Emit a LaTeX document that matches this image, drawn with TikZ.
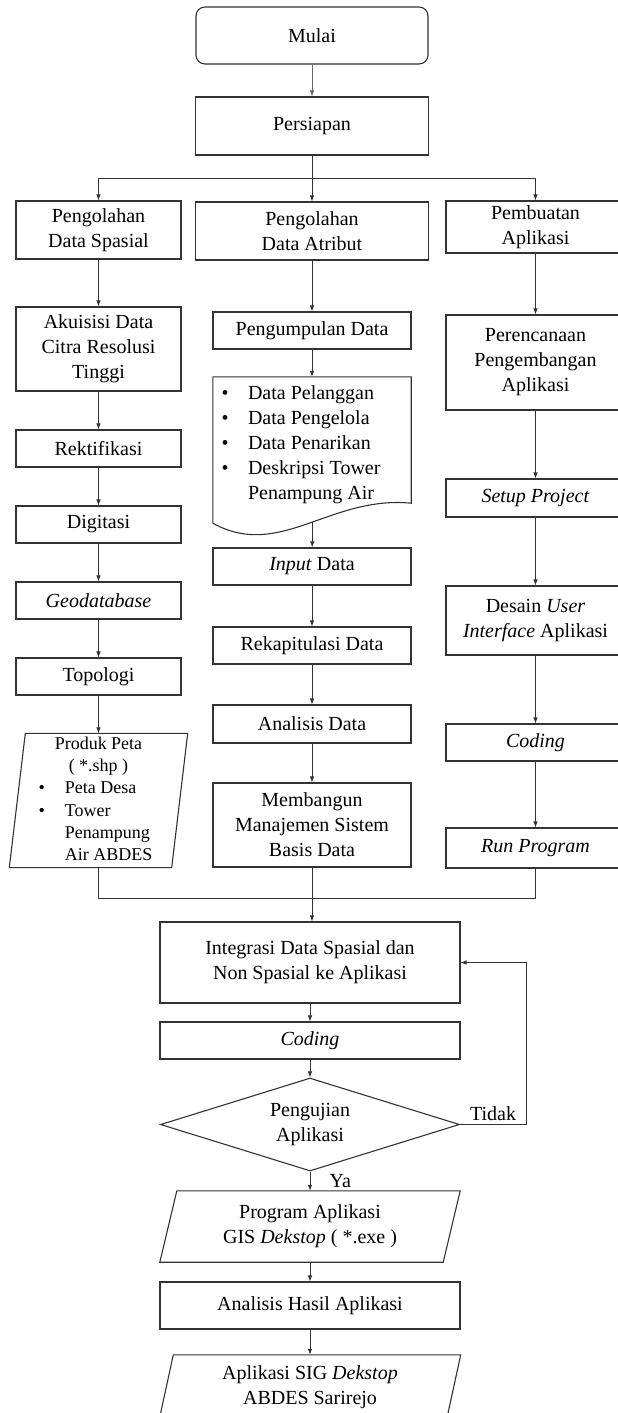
\documentclass[tikz,border=0pt]{standalone}
\usepackage{fontspec}
\setmainfont{Liberation Serif}
\usepackage{tikz}
\usetikzlibrary{calc,shapes.geometric,arrows.meta}
\newcommand{\isi}{\fontsize{20pt}{25pt}\selectfont}
\newcommand{\isikecil}{\fontsize{18pt}{22.3pt}\selectfont}

\begin{document}
\begin{tikzpicture}[x=1pt,y=-1pt,
    kotak/.style={draw=black!80,line width=1.1pt,align=center,font=\isi,inner sep=2pt},
    kiri/.style={kotak,minimum width=165pt},
    tengah/.style={kotak,minimum width=198pt},
    kanan/.style={kotak,minimum width=179pt},
    bawah/.style={kotak,minimum width=300pt},
    miring/.style={draw=black!80,line width=1.1pt},
    panah/.style={-{Latex[length=6pt,width=4.5pt]},line width=0.8pt,draw=black!80},
    garis/.style={line width=0.8pt,draw=black!80}]
    \useasboundingbox (0,0) rectangle (618,1413);

    \node[kotak,rounded corners=9pt,minimum width=232pt,minimum height=57pt] (mulai) at (312,35.5) {Mulai};
    \node[kotak,minimum width=233pt,minimum height=58pt] (persiapan) at (312,126) {Persiapan};
    \coordinate (cabang) at (312,178);

    % kolom kiri
    \node[kiri,minimum height=58pt] (spasial) at (98.5,230) {Pengolahan\\Data Spasial};
    \node[kiri,minimum height=84pt] (akuisisi) at (98.5,349) {Akuisisi Data\\Citra Resolusi\\Tinggi};
    \node[kiri,minimum height=37pt] (rektifikasi) at (98.5,448.5) {Rektifikasi};
    \node[kiri,minimum height=37pt] (digitasi) at (98.5,524.5) {Digitasi};
    \node[kiri,minimum height=37pt] (geodb) at (98.5,600.5) {\textit{Geodatabase}};
    \node[kiri,minimum height=37pt] (topologi) at (98.5,676.5) {Topologi};
    \node[font=\isikecil,minimum width=162pt,minimum height=133pt,inner sep=0pt] (produk) at (98.5,800.5)
        {\begin{tabular}{@{}l@{\hspace{20pt}}l@{\hspace{6pt}}}
        \multicolumn{2}{c}{Produk Peta}\\ \multicolumn{2}{c}{( *.shp )}\\
        \textbullet & Peta Desa\\ \textbullet & Tower\\ & Penampung\\ & Air ABDES
        \end{tabular}};
    \draw[miring] ([xshift=8pt]produk.north west) -- ([xshift=8pt]produk.north east)
        -- ([xshift=-8pt]produk.south east) -- ([xshift=-8pt]produk.south west) -- cycle;

    % kolom tengah
    \node[kotak,minimum width=233pt,minimum height=58pt] (atribut) at (312,231) {Pengolahan\\Data Atribut};
    \node[tengah,minimum height=37pt] (kumpul) at (312,330.5) {Pengumpulan Data};
    \node[minimum width=198pt,minimum height=156pt] (dok) at (312,455) {};
    \node[font=\isi,inner sep=0pt] (dokisi) at (301,444)
        {\begin{tabular}{@{}l@{\hspace{19.5pt}}l@{}}
        \textbullet & Data Pelanggan\\ \textbullet & Data Pengelola\\
        \textbullet & Data Penarikan\\ \textbullet & Deskripsi Tower\\ & Penampung Air
        \end{tabular}};
    \draw[miring] ([yshift=10pt]dok.south west) |- (dok.north east) -- ([yshift=30pt]dok.south east)
        .. controls ($(dok.south west)+(117,-38)$) and ($(dok.south west)+(67,27)$) ..
        coordinate[pos=0.47] (ombak) ([yshift=10pt]dok.south west);
    \node[tengah,minimum height=37pt] (input) at (312,566.5) {\textit{Input} Data};
    \node[tengah,minimum height=37pt] (rekap) at (312,645.5) {Rekapitulasi Data};
    \node[tengah,minimum height=38pt] (analisis) at (312,724) {Analisis Data};
    \node[tengah,minimum height=84pt] (bangun) at (312,825) {Membangun\\Manajemen Sistem\\Basis Data};

    % kolom kanan
    \node[kanan,minimum height=52pt] (buat) at (535.5,227) {Pembuatan\\Aplikasi};
    \node[kanan,minimum height=95pt] (rencana) at (535.5,362.5) {Perencanaan\\Pengembangan\\Aplikasi};
    \node[kanan,minimum height=38pt] (setup) at (535.5,498) {\textit{Setup Project}};
    \node[kanan,minimum height=69pt] (desain) at (535.5,620.5) {Desain \textit{User}\\\textit{Interface} Aplikasi};
    \node[kanan,minimum height=37pt] (codingA) at (535.5,742.5) {\textit{Coding}};
    \node[kanan,minimum height=40pt] (run) at (535.5,848) {\textit{Run Program}};
    \coordinate (gabung) at (312,898);

    % bagian bawah
    \node[bawah,minimum height=81pt] (integrasi) at (310,962.5) {Integrasi Data Spasial dan\\Non Spasial ke Aplikasi};
    \node[bawah,minimum height=37pt] (coding) at (310,1040.5) {\textit{Coding}};
    \node[diamond,miring,font=\isi,align=center,aspect=3.2,minimum width=299pt,minimum height=93pt,inner sep=1pt]
        (uji) at (310,1124.5) {Pengujian\\Aplikasi};
    \coordinate (balik) at (526,1124.5);
    \node[font=\isi,align=center,minimum width=283pt,minimum height=71pt] (program) at (310,1226.5)
        {Program Aplikasi\\GIS \textit{Dekstop} ( *.exe )};
    \draw[miring] ([xshift=8.5pt]program.north west) -- ([xshift=8.5pt]program.north east)
        -- ([xshift=-8.5pt]program.south east) -- ([xshift=-8.5pt]program.south west) -- cycle;
    \node[bawah,minimum height=47pt] (hasil) at (310,1305.5) {Analisis Hasil Aplikasi};
    \node[font=\isi,align=center,minimum width=287pt,minimum height=64pt] (akhir) at (310,1387)
        {Aplikasi SIG \textit{Dekstop}\\ABDES Sarirejo};
    \draw[miring] ([xshift=7pt]akhir.north west) -- ([xshift=7pt]akhir.north east)
        -- ([xshift=-7pt]akhir.south east) -- ([xshift=-7pt]akhir.south west) -- cycle;

    % panah
    \draw[panah,line width=0.5pt,draw=black!60] (mulai) -- (persiapan);
    \draw[garis] (persiapan) -- (cabang);
    \draw[panah] (cabang) -- (atribut);
    \draw[panah] (cabang) -| (spasial);
    \draw[panah] (cabang) -| (buat);
    \draw[panah] (spasial) -- (akuisisi);
    \draw[panah] (akuisisi) -- (rektifikasi);
    \draw[panah] (rektifikasi) -- (digitasi);
    \draw[panah] (digitasi) -- (geodb);
    \draw[panah] (geodb) -- (topologi);
    \draw[panah] (topologi) -- (produk);
    \draw[panah] (atribut) -- (kumpul);
    \draw[panah] (kumpul) -- (dok);
    \draw[panah] (ombak) -- (ombak |- input.north);
    \draw[panah] (input) -- (rekap);
    \draw[panah] (rekap) -- (analisis);
    \draw[panah] (analisis) -- (bangun);
    \draw[panah] (buat) -- (rencana);
    \draw[panah] (rencana) -- (setup);
    \draw[panah] (setup) -- (desain);
    \draw[panah] (desain) -- (codingA);
    \draw[panah] (codingA) -- (run);
    \draw[garis] (produk) |- (gabung) -| (run);
    \draw[panah] (bangun) -- (bangun |- integrasi.north);
    \draw[panah] (integrasi) -- (coding);
    \draw[panah] (coding) -- (uji);
    \draw[panah] (uji) -- node[above,font=\isi] {Tidak} (balik) |- (integrasi);
    \draw[panah] (uji) -- node[right=16pt,font=\isi] {Ya} (program);
    \draw[panah] (program) -- (hasil);
    \draw[panah] (hasil) -- (akhir);
\end{tikzpicture}
\end{document}
